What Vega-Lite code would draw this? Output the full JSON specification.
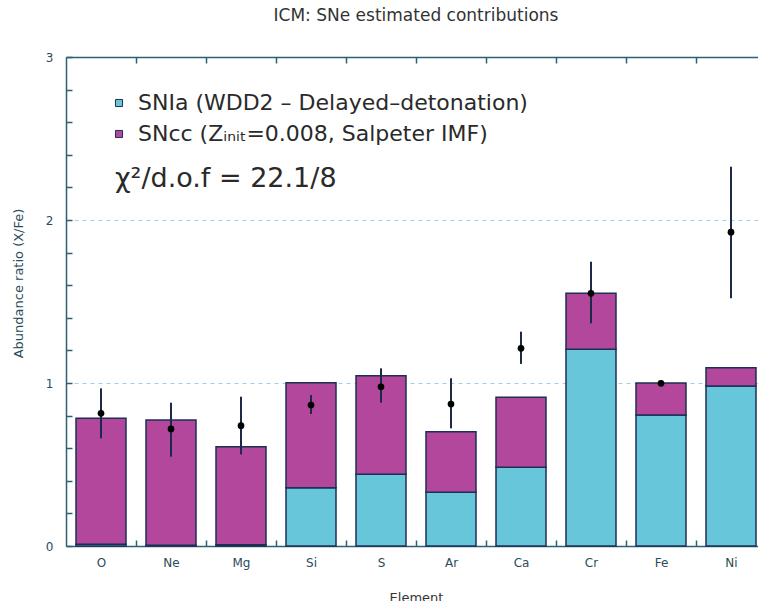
{
  "$schema": "https://vega.github.io/schema/vega-lite/v6.json",
  "autosize": {"type": "none"},
  "width": 692,
  "height": 489,
  "padding": {"left": 66, "top": 57, "right": 0, "bottom": 55},
  "background": "white",
  "config": {"view": {"stroke": null}, "font": "DejaVu Sans"},
  "title": {"text": "ICM: SNe estimated contributions", "fontSize": 17, "fontWeight": "normal", "color": "#333333", "offset": 26, "anchor": "middle", "frame": "group", "dx": 4},
  "datasets": {
    "bars": [
      {"element": "O", "source": "SNIa (WDD2 – Delayed–detonation)", "ord": 1, "value": 0.01},
      {"element": "O", "source": "SNcc (Zᵢₙᵢₜ=0.008, Salpeter IMF)", "ord": 2, "value": 0.773},
      {"element": "Ne", "source": "SNIa (WDD2 – Delayed–detonation)", "ord": 1, "value": 0.004},
      {"element": "Ne", "source": "SNcc (Zᵢₙᵢₜ=0.008, Salpeter IMF)", "ord": 2, "value": 0.769},
      {"element": "Mg", "source": "SNIa (WDD2 – Delayed–detonation)", "ord": 1, "value": 0.008},
      {"element": "Mg", "source": "SNcc (Zᵢₙᵢₜ=0.008, Salpeter IMF)", "ord": 2, "value": 0.601},
      {"element": "Si", "source": "SNIa (WDD2 – Delayed–detonation)", "ord": 1, "value": 0.358},
      {"element": "Si", "source": "SNcc (Zᵢₙᵢₜ=0.008, Salpeter IMF)", "ord": 2, "value": 0.644},
      {"element": "S", "source": "SNIa (WDD2 – Delayed–detonation)", "ord": 1, "value": 0.44},
      {"element": "S", "source": "SNcc (Zᵢₙᵢₜ=0.008, Salpeter IMF)", "ord": 2, "value": 0.605},
      {"element": "Ar", "source": "SNIa (WDD2 – Delayed–detonation)", "ord": 1, "value": 0.329},
      {"element": "Ar", "source": "SNcc (Zᵢₙᵢₜ=0.008, Salpeter IMF)", "ord": 2, "value": 0.372},
      {"element": "Ca", "source": "SNIa (WDD2 – Delayed–detonation)", "ord": 1, "value": 0.483},
      {"element": "Ca", "source": "SNcc (Zᵢₙᵢₜ=0.008, Salpeter IMF)", "ord": 2, "value": 0.429},
      {"element": "Cr", "source": "SNIa (WDD2 – Delayed–detonation)", "ord": 1, "value": 1.207},
      {"element": "Cr", "source": "SNcc (Zᵢₙᵢₜ=0.008, Salpeter IMF)", "ord": 2, "value": 0.343},
      {"element": "Fe", "source": "SNIa (WDD2 – Delayed–detonation)", "ord": 1, "value": 0.804},
      {"element": "Fe", "source": "SNcc (Zᵢₙᵢₜ=0.008, Salpeter IMF)", "ord": 2, "value": 0.196},
      {"element": "Ni", "source": "SNIa (WDD2 – Delayed–detonation)", "ord": 1, "value": 0.982},
      {"element": "Ni", "source": "SNcc (Zᵢₙᵢₜ=0.008, Salpeter IMF)", "ord": 2, "value": 0.112}
    ],
    "obs": [
      {"element": "O", "value": 0.814, "lo": 0.661, "hi": 0.967},
      {"element": "Ne", "value": 0.718, "lo": 0.548, "hi": 0.879},
      {"element": "Mg", "value": 0.738, "lo": 0.562, "hi": 0.916},
      {"element": "Si", "value": 0.865, "lo": 0.81, "hi": 0.926},
      {"element": "S", "value": 0.977, "lo": 0.879, "hi": 1.09},
      {"element": "Ar", "value": 0.871, "lo": 0.722, "hi": 1.029},
      {"element": "Ca", "value": 1.213, "lo": 1.117, "hi": 1.315},
      {"element": "Cr", "value": 1.55, "lo": 1.366, "hi": 1.744},
      {"element": "Fe", "value": 0.998, "lo": 0.988, "hi": 1.008},
      {"element": "Ni", "value": 1.925, "lo": 1.52, "hi": 2.327}
    ],
    "note": [{"label": "χ²/d.o.f = 22.1/8"}]
  },
  "layer": [
    {
      "data": {"name": "bars"},
      "mark": {"type": "bar", "stroke": "#1c2f55", "strokeWidth": 1.5},
      "encoding": {
        "x": {
          "field": "element", "type": "nominal",
          "sort": ["O", "Ne", "Mg", "Si", "S", "Ar", "Ca", "Cr", "Fe", "Ni"],
          "scale": {"range": [0, 700], "paddingInner": 0.2857, "paddingOuter": 0.1429},
          "axis": {
            "orient": "bottom", "title": "Element", "labelAngle": 0,
            "domainColor": "#2b6075", "domainWidth": 1.5,
            "tickColor": "#2b6075", "tickWidth": 1.5, "tickSize": -6, "tickOffset": 35,
            "labelOffset": -35,
            "labelFontSize": 12, "labelColor": "#2b4b5a", "labelPadding": 17,
            "titleFontSize": 13, "titleFontWeight": "normal", "titleColor": "#333333", "titlePadding": 23,
            "grid": false
          }
        },
        "y": {
          "field": "value", "type": "quantitative", "stack": "zero",
          "scale": {"domain": [0, 3], "nice": false},
          "axis": {
            "title": "Abundance ratio (X/Fe)",
            "values": [0, 0.2, 0.4, 0.6, 0.8, 1, 1.2, 1.4, 1.6, 1.8, 2, 2.2, 2.4, 2.6, 2.8, 3],
            "tickCount": 40,
            "labelExpr": "datum.value % 1 === 0 ? format(datum.value, 'd') : ''",
            "labelOverlap": false,
            "domainColor": "#2b6075", "domainWidth": 1.5,
            "tickColor": "#2b6075", "tickWidth": 1.5,
            "tickSize": -6,
            "labelFontSize": 12, "labelColor": "#2b4b5a", "labelPadding": 19,
            "titleFontSize": 13, "titleFontWeight": "normal", "titleColor": "#2b4b5a",
            "titleY": 226, "titlePadding": 20,
            "grid": true, "gridColor": "#9fd0e6", "gridDash": [4, 4], "gridWidth": 1,
            "gridOpacity": {"condition": {"test": "datum.value % 1 === 0 && datum.value > 0 && datum.value < 3", "value": 1}, "value": 0}
          }
        },
        "color": {
          "field": "source", "type": "nominal",
          "scale": {"domain": ["SNIa (WDD2 – Delayed–detonation)", "SNcc (Zᵢₙᵢₜ=0.008, Salpeter IMF)"], "range": ["#67c6da", "#b2479b"]},
          "legend": {
            "orient": "none", "legendX": 42, "legendY": 35, "title": null,
            "symbolType": "square", "symbolSize": 50, "symbolStrokeWidth": 1, "symbolStrokeColor": "#1c2f55",
            "labelFontSize": 22, "labelColor": "#2a2a2a", "labelOffset": 8, "rowPadding": 9, "padding": 0, "labelLimit": 700
          }
        },
        "order": {"field": "ord", "type": "quantitative"}
      }
    },
    {
      "data": {"name": "obs"},
      "mark": {"type": "rule", "color": "#1c2a48", "strokeWidth": 2},
      "encoding": {
        "x": {
          "field": "element", "type": "nominal",
          "sort": ["O", "Ne", "Mg", "Si", "S", "Ar", "Ca", "Cr", "Fe", "Ni"],
          "axis": {
            "orient": "top", "labels": false, "title": null,
            "domainColor": "#2b6075", "domainWidth": 1.5,
            "tickColor": "#2b6075", "tickWidth": 1.5, "tickSize": -6, "tickOffset": 35,
            "grid": false
          }
        },
        "y": {"field": "lo", "type": "quantitative"},
        "y2": {"field": "hi"}
      }
    },
    {
      "data": {"name": "obs"},
      "mark": {"type": "point", "filled": true, "color": "#000000", "size": 45, "opacity": 1},
      "encoding": {
        "x": {"field": "element", "type": "nominal", "sort": ["O", "Ne", "Mg", "Si", "S", "Ar", "Ca", "Cr", "Fe", "Ni"], "axis": null},
        "y": {"field": "value", "type": "quantitative"}
      }
    },
    {
      "data": {"name": "note"},
      "mark": {"type": "text", "align": "left", "baseline": "middle", "fontSize": 27, "color": "#2a2a2a", "dx": 14},
      "encoding": {
        "x": {"datum": "O", "type": "nominal", "axis": null},
        "y": {"datum": 2.25, "type": "quantitative"},
        "text": {"field": "label"}
      }
    }
  ],
  "resolve": {"axis": {"x": "independent"}}
}
